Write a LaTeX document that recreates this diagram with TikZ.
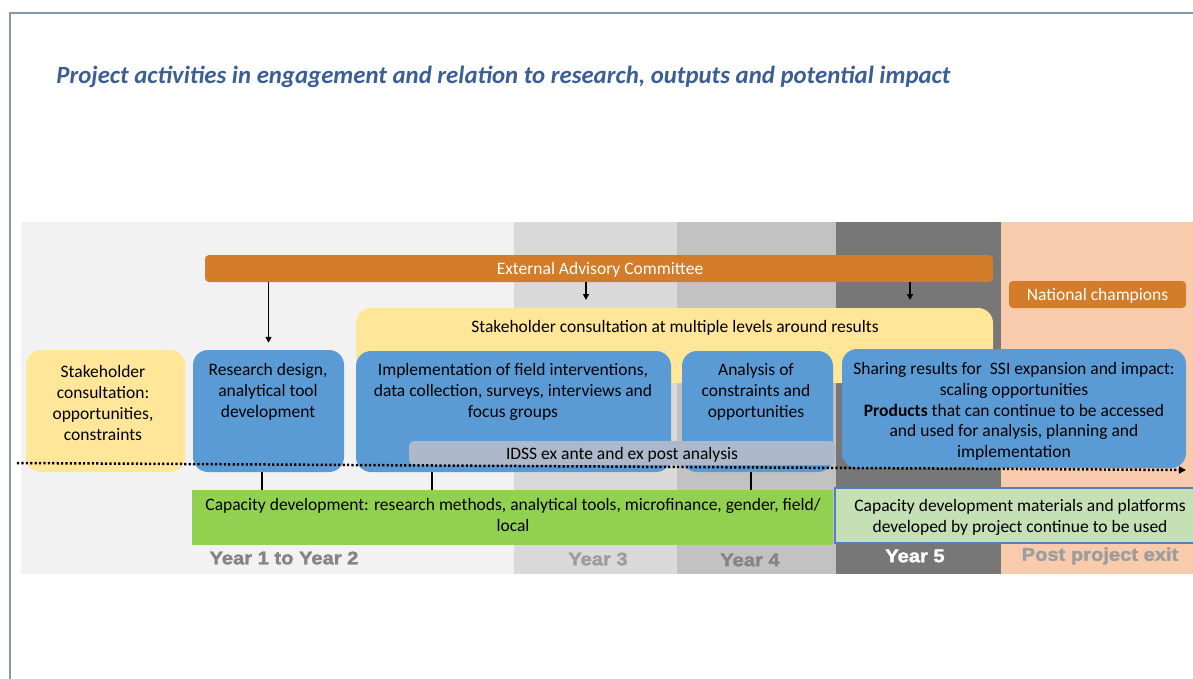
\documentclass[tikz,border=0pt]{standalone}
\usepackage{fontspec}
\setmainfont{Carlito}
\newfontfamily\yearfont[FakeBold = 1.8, FakeStretch = 1.1]{Liberation Sans Bold}
\usetikzlibrary{arrows.meta}

\definecolor{framecol}{HTML}{8497B0}
\definecolor{titleblue}{HTML}{3B5F94}
\definecolor{bandA}{HTML}{F2F2F2}
\definecolor{bandB}{HTML}{D9D9D9}
\definecolor{bandC}{HTML}{C2C2C2}
\definecolor{bandD}{HTML}{777777}
\definecolor{bandE}{HTML}{F8CBAD}
\definecolor{eacorange}{HTML}{D37C2A}
\definecolor{consyellow}{HTML}{FFE699}
\definecolor{boxblue}{HTML}{5B9BD5}
\definecolor{idssgray}{HTML}{ADB9CA}
\definecolor{capgreen}{HTML}{92D050}
\definecolor{matgreen}{HTML}{C5E0B4}
\definecolor{matborder}{HTML}{4F81BD}
\definecolor{yeargray}{HTML}{858585}

\tikzset{
    box/.style = {rounded corners = 15pt, inner sep = 0pt},
    bluebox/.style = {box, fill = boxblue},
    yellowbox/.style = {box, fill = consyellow},
    bar/.style = {rounded corners = 4pt, inner sep = 0pt},
    arr/.style = {-{Triangle[length = 6pt, width = 6pt]}, line width = 1.5pt},
    tick/.style = {line width = 2pt},
    yearlabel/.style = {font = \yearfont\fontsize{18.3}{20}\selectfont, text = yeargray},
}

\begin{document}
\begin{tikzpicture}[x = 1pt, y = -1pt, font = \fontsize{17.5}{20.7}\selectfont]
    \useasboundingbox (0, 0) rectangle (1193, 678);
    \draw [framecol, line width = 1.5pt] (1200, 13) -- (10, 13) -- (10, 690);

    \node [font = \fontsize{24.8}{28}\bfseries\itshape\selectfont, text = titleblue] (title) at (503.5, 77)
        {Project activities in engagement and relation to research, outputs and potential impact};

    % year bands
    \fill [bandA] (21, 222) rectangle (514, 574);
    \fill [bandB] (514, 222) rectangle (677, 574);
    \fill [bandC] (677, 222) rectangle (836, 574);
    \fill [bandD] (836, 222) rectangle (1001, 574);
    \fill [bandE] (1001, 222) rectangle (1200, 574);

    \node [yearlabel] (year12) at (284, 558) {Year 1 to Year 2};
    \node [yearlabel, text = yeargray!80] (year3) at (598, 559) {Year 3};
    \node [yearlabel] (year4) at (750, 560) {Year 4};
    \node [yearlabel, text = white] (year5) at (915, 556) {Year 5};
    \node [yearlabel, text = yeargray!80] (postexit) at (1100, 556) {Post project exit};

    % advisory committee and champions
    \node [bar, fill = eacorange, minimum width = 788pt, minimum height = 27pt] (eac) at (599, 268.5) {};
    \node [text = white] (eactxt) at (600, 270) {External Advisory Committee};
    \node [bar, fill = eacorange, minimum width = 177pt, minimum height = 27pt] (champions) at (1097.5, 294.5) {};
    \node [text = white] (champtxt) at (1097.5, 296) {National champions};

    % consultation
    \node [yellowbox, minimum width = 637pt, minimum height = 75pt] (results) at (674.5, 345.5) {};
    \node (resultstxt) at (675, 328) {Stakeholder consultation at multiple levels around results};
    \node [yellowbox, minimum width = 159pt, minimum height = 122pt] (stake) at (105.5, 411) {};
    \node [align = center] (staketxt) at (103, 403) {Stakeholder\\ consultation:\\ opportunities,\\ constraints};

    % activities
    \node [bluebox, minimum width = 151pt, minimum height = 122pt] (design) at (268.5, 411) {};
    \node [align = center] (designtxt) at (268, 392) {Research design,\\ analytical tool\\ development};
    \node [bluebox, minimum width = 315pt, minimum height = 121pt] (impl) at (513.5, 411.5) {};
    \node [align = center] (impltxt) at (513, 392) {Implementation of field interventions,\\ data collection, surveys, interviews and\\ focus groups};
    \node [bluebox, minimum width = 151pt, minimum height = 121pt] (analysis) at (757.5, 411.5) {};
    \node [align = center] (analysistxt) at (756, 392) {Analysis of\\ constraints and\\ opportunities};
    \node [bluebox, minimum width = 344pt, minimum height = 119pt] (sharing) at (1014, 408.5) {};
    \node [align = center] (sharingtxt) at (1014, 411.5) {Sharing results for\ \ SSI expansion and impact:\\ scaling opportunities\\ \textbf{Products} that can continue to be accessed\\ and used for analysis, planning and\\ implementation};

    \node [bar, rounded corners = 5pt, fill = idssgray, minimum width = 426pt, minimum height = 24pt] (idss) at (622, 453) {};
    \node (idsstxt) at (622, 455) {IDSS ex ante and ex post analysis};

    % timeline
    \coordinate (tstart) at (17, 463);
    \coordinate (tend) at (1186, 470);
    \draw [line width = 2.5pt, dash pattern = on 2.2pt off 2.2pt, -{Triangle[length = 7pt, width = 7pt]}] (tstart) -- (tend);

    % capacity development
    \node [fill = capgreen, inner sep = 0pt, minimum width = 641pt, minimum height = 55pt] (capacity) at (512.5, 517.5) {};
    \node [align = center] (capacitytxt) at (513, 515) {Capacity development: research methods, analytical tools, microfinance, gender, field/\\ local};
    \node [fill = matgreen, draw = matborder, line width = 1.2pt, inner sep = 0pt, minimum width = 365pt, minimum height = 55pt] (materials) at (1017.5, 515.5) {};
    \node [align = center] (materialstxt) at (1020, 517.5) {Capacity development materials and platforms\\ developed by project continue to be used};

    \draw [tick] ([xshift = -6.5pt]design.south) -- ([xshift = -6.5pt]design.south |- capacity.north);
    \draw [tick] ([xshift = -81.5pt]impl.south) -- ([xshift = -81.5pt]impl.south |- capacity.north);
    \draw [tick] ([xshift = -6.5pt]analysis.south) -- ([xshift = -6.5pt]analysis.south |- capacity.north);

    % advice arrows
    \coordinate (tip2) at (586, 300);
    \coordinate (tip3) at (910, 300);
    \draw [arr] (eac.south -| design.north) -- ([yshift = 7pt]design.north);
    \draw [arr] (eac.south -| tip2) -- (tip2);
    \draw [arr] (eac.south -| tip3) -- (tip3);

\end{tikzpicture}
\end{document}
